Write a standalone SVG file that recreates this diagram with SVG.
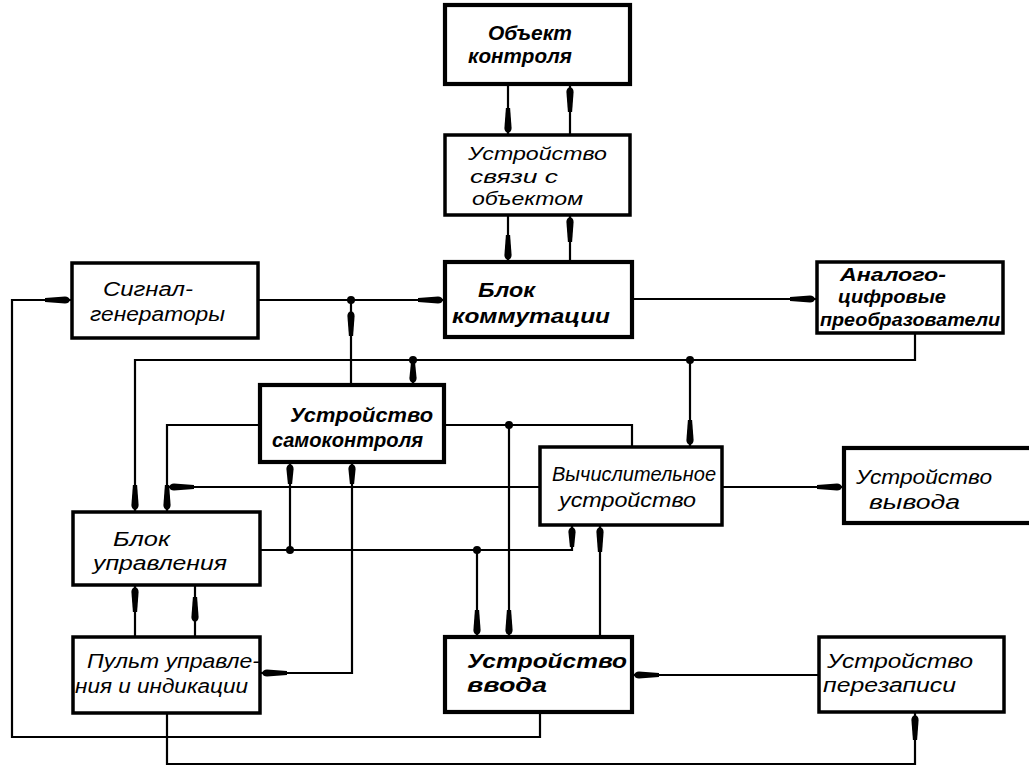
<svg xmlns="http://www.w3.org/2000/svg" width="1029" height="767" viewBox="0 0 1029 767">
<style>
.box{fill:#fff;stroke:#000;stroke-width:3.5}
.bb{stroke-width:4.2}
.w{fill:none;stroke:#000;stroke-width:2.2;stroke-linejoin:miter}
.t{font-family:"Liberation Sans","DejaVu Sans",sans-serif;font-style:italic;font-size:20px;fill:#000}
.tb{font-weight:bold}
.ts{font-size:19px}
.dot{fill:#000}
</style>
<defs>
<path id="ah" d="M1,0 Q0,-3.6 -4,-3.6 L-24,-2.1 L-24,2.1 L-4,3.6 Q0,3.6 1,0 Z" fill="#000"/>
<path id="ahs" d="M1,0 Q0,-3.6 -4,-3.6 L-19,-2.1 L-19,2.1 L-4,3.6 Q0,3.6 1,0 Z" fill="#000"/>
</defs>
<rect width="1029" height="767" fill="#fff"/>

<g id="connectors">
<path class="w" d="M508,84 V135"/>
<path class="w" d="M570,84 V135"/>
<path class="w" d="M508,215 V262"/>
<path class="w" d="M570,215 V262"/>
<path class="w" d="M258,300 H445"/>
<path class="w" d="M351,300 V385"/>
<path class="w" d="M632,299 H817"/>
<path class="w" d="M915,333 V360 H135 V512"/>
<path class="w" d="M413,360 V385"/>
<path class="w" d="M690,360 V447"/>
<path class="w" d="M540,712 V737 H12 V300 H72"/>
<path class="w" d="M167,713 V764 H915 V712"/>
<path class="w" d="M819,675 H632"/>
<path class="w" d="M477,550 V637"/>
<path class="w" d="M509,425 V637"/>
<path class="w" d="M600,637 V525"/>
<path class="w" d="M572,525 V550 H260"/>
<path class="w" d="M444,425 H632 V447"/>
<path class="w" d="M260,425 H167 V512"/>
<path class="w" d="M540,487 H167"/>
<path class="w" d="M290,462 V550"/>
<path class="w" d="M352,462 V673 H260"/>
<path class="w" d="M135,585 V637"/>
<path class="w" d="M195,585 V637"/>
<path class="w" d="M722,487 H844"/>
<circle class="dot" cx="351" cy="300" r="4"/>
<circle class="dot" cx="413" cy="360" r="4"/>
<circle class="dot" cx="690" cy="360" r="4"/>
<circle class="dot" cx="509" cy="425" r="4"/>
<circle class="dot" cx="477" cy="550" r="4"/>
<circle class="dot" cx="290" cy="550" r="4"/>
<use href="#ah" transform="translate(508,132) rotate(90)"/>
<use href="#ah" transform="translate(570,88) rotate(-90)"/>
<use href="#ah" transform="translate(508,259) rotate(90)"/>
<use href="#ah" transform="translate(570,218) rotate(-90)"/>
<use href="#ah" transform="translate(442,300)"/>
<use href="#ah" transform="translate(351,312) rotate(-90)"/>
<use href="#ah" transform="translate(814,299)"/>
<use href="#ah" transform="translate(135,509) rotate(90)"/>
<use href="#ahs" transform="translate(413,382) rotate(90)"/>
<use href="#ah" transform="translate(690,444) rotate(90)"/>
<use href="#ah" transform="translate(69,300)"/>
<use href="#ah" transform="translate(915,716) rotate(-90)"/>
<use href="#ah" transform="translate(635,675) rotate(180)"/>
<use href="#ah" transform="translate(477,634) rotate(90)"/>
<use href="#ah" transform="translate(509,634) rotate(90)"/>
<use href="#ah" transform="translate(600,528) rotate(-90)"/>
<use href="#ahs" transform="translate(572,528) rotate(-90)"/>
<use href="#ah" transform="translate(167,509) rotate(90)"/>
<use href="#ah" transform="translate(170,487) rotate(180)"/>
<use href="#ahs" transform="translate(290,465) rotate(-90)"/>
<use href="#ahs" transform="translate(352,465) rotate(-90)"/>
<use href="#ah" transform="translate(263,673) rotate(180)"/>
<use href="#ah" transform="translate(135,588) rotate(-90)"/>
<use href="#ah" transform="translate(195,621) rotate(90)"/>
<use href="#ah" transform="translate(841,487)"/>
</g>

<g id="n1">
<rect class="box bb" x="445" y="5" width="185" height="79"/>
<text class="t tb" x="488" y="40" textLength="84" lengthAdjust="spacingAndGlyphs">Объект</text>
<text class="t tb" x="468" y="63" textLength="104" lengthAdjust="spacingAndGlyphs">контроля</text>
</g>
<g id="n2">
<rect class="box" x="445" y="135" width="185" height="80"/>
<text class="t ts" x="468" y="160" textLength="139" lengthAdjust="spacingAndGlyphs">Устройство</text>
<text class="t ts" x="470" y="183" textLength="88" lengthAdjust="spacingAndGlyphs">связи с</text>
<text class="t ts" x="472" y="205" textLength="111" lengthAdjust="spacingAndGlyphs">объектом</text>
</g>
<g id="n3">
<rect class="box bb" x="445" y="262" width="187" height="75"/>
<text class="t tb" x="478" y="297" textLength="57" lengthAdjust="spacingAndGlyphs">Блок</text>
<text class="t tb" x="452" y="323" textLength="158" lengthAdjust="spacingAndGlyphs">коммутации</text>
</g>
<g id="n4">
<rect class="box" x="817" y="262" width="186" height="71"/>
<text class="t tb ts" x="840" y="281" textLength="106" lengthAdjust="spacingAndGlyphs">Аналого-</text>
<text class="t tb ts" x="838" y="303" textLength="108" lengthAdjust="spacingAndGlyphs">цифровые</text>
<text class="t tb ts" x="820" y="326" textLength="180" lengthAdjust="spacingAndGlyphs">преобразователи</text>
</g>
<g id="n5">
<rect class="box" x="72" y="263" width="186" height="75"/>
<text class="t" x="103" y="296" textLength="90" lengthAdjust="spacingAndGlyphs">Сигнал-</text>
<text class="t" x="90" y="321" textLength="135" lengthAdjust="spacingAndGlyphs">генераторы</text>
</g>
<g id="n6">
<rect class="box bb" x="260" y="385" width="184" height="77"/>
<text class="t tb" x="290" y="422" textLength="143" lengthAdjust="spacingAndGlyphs">Устройство</text>
<text class="t tb" x="272" y="447" textLength="151" lengthAdjust="spacingAndGlyphs">самоконтроля</text>
</g>
<g id="n7">
<rect class="box" x="540" y="447" width="182" height="78"/>
<text class="t" x="552" y="481" textLength="164" lengthAdjust="spacingAndGlyphs">Вычислительное</text>
<text class="t" x="559" y="507" textLength="137" lengthAdjust="spacingAndGlyphs">устройство</text>
</g>
<g id="n8">
<rect class="box bb" x="844" y="448" width="200" height="75"/>
<text class="t" x="856" y="484" textLength="136" lengthAdjust="spacingAndGlyphs">Устройство</text>
<text class="t" x="869" y="509" textLength="91" lengthAdjust="spacingAndGlyphs">вывода</text>
</g>
<g id="n9">
<rect class="box" x="73" y="512" width="187" height="73"/>
<text class="t" x="113" y="546" textLength="57" lengthAdjust="spacingAndGlyphs">Блок</text>
<text class="t" x="93" y="570" textLength="134" lengthAdjust="spacingAndGlyphs">управления</text>
</g>
<g id="n10">
<rect class="box" x="73" y="637" width="187" height="76"/>
<text class="t" x="87" y="668" textLength="173" lengthAdjust="spacingAndGlyphs">Пульт управле-</text>
<text class="t" x="75" y="693" textLength="173" lengthAdjust="spacingAndGlyphs">ния и индикации</text>
</g>
<g id="n11">
<rect class="box bb" x="445" y="637" width="187" height="75"/>
<text class="t tb" x="467" y="668" textLength="160" lengthAdjust="spacingAndGlyphs">Устройство</text>
<text class="t tb" x="467" y="692" textLength="80" lengthAdjust="spacingAndGlyphs">ввода</text>
</g>
<g id="n12">
<rect class="box" x="819" y="637" width="185" height="75"/>
<text class="t" x="827" y="668" textLength="146" lengthAdjust="spacingAndGlyphs">Устройство</text>
<text class="t" x="823" y="692" textLength="133" lengthAdjust="spacingAndGlyphs">перезаписи</text>
</g>
</svg>
